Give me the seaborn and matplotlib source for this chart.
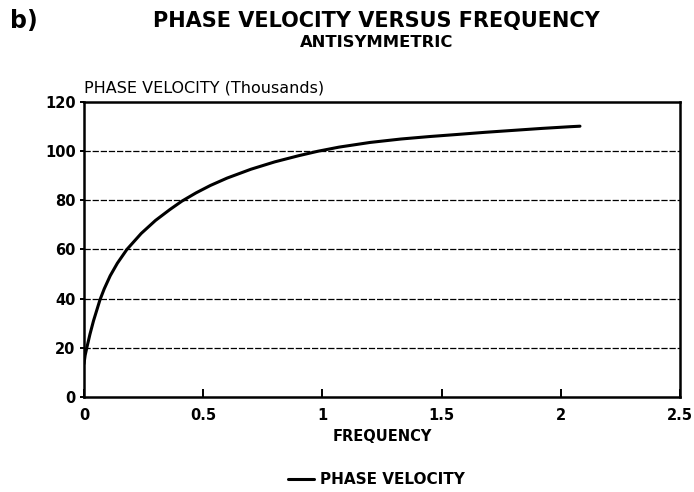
import matplotlib
matplotlib.use("Agg")
import matplotlib.pyplot as plt
import seaborn as sns
import pandas as pd

# Phase velocity (thousands) of the antisymmetric mode against frequency
frequency = [0, 0.005, 0.013, 0.025, 0.04, 0.067, 0.085, 0.11, 0.14, 0.18,
             0.24, 0.30, 0.36, 0.41, 0.47, 0.53, 0.60, 0.70, 0.80, 0.90,
             0.98, 1.07, 1.20, 1.33, 1.45, 1.56, 1.68, 1.80, 1.92, 2.04,
             2.08]
phase_velocity = [13.5, 17, 20.5, 25.5, 31, 39.5, 44.0, 49.3, 54.4, 60,
                  66.5, 71.8, 76.2, 79.6, 83.0, 86.0, 89.0, 92.6, 95.6, 98.1,
                  99.9, 101.6, 103.5, 104.9, 105.9, 106.7, 107.6, 108.4, 109.2, 109.9,
                  110.1]
x_ticks = [0, 0.5, 1, 1.5, 2, 2.5]
x_tick_labels = ["0", "0.5", "1", "1.5", "2", "2.5"]
y_ticks = [0, 20, 40, 60, 80, 100, 120]

sns.set_theme(style="white")
plt.rcParams["font.family"] = ["DejaVu Sans"]
plt.rcParams.update({"text.color": "black", "axes.labelcolor": "black",
                     "xtick.color": "black", "ytick.color": "black"})

df = pd.DataFrame({"FREQUENCY": frequency, "PHASE VELOCITY": phase_velocity})

fig = plt.figure(figsize=(6.94, 4.92), dpi=100)
ax = fig.add_axes([0.121, 0.193, 0.859, 0.600])

sns.lineplot(data=df, x="FREQUENCY", y="PHASE VELOCITY", ax=ax,
             color="black", linewidth=2.2, label="PHASE VELOCITY")

ax.set_xlim(0, 2.5)
ax.set_ylim(0, 120)
ax.set_xticks(x_ticks)
ax.set_xticklabels(x_tick_labels)
ax.set_yticks(y_ticks)

for y in y_ticks[1:-1]:
    ax.axhline(y, color="black", linewidth=0.9, linestyle=(0, (5, 1.5)), zorder=0)

for s in ax.spines.values():
    s.set_color("black")
    s.set_linewidth(1.8)

ax.tick_params(axis="x", direction="in", length=6, width=1.4,
               labelsize=10.5, pad=8, bottom=True)
ax.tick_params(axis="y", direction="out", length=3, width=1.4,
               labelsize=10.5, pad=3, left=True)
for lab in ax.get_xticklabels() + ax.get_yticklabels():
    lab.set_fontweight("bold")

ax.set_xlabel("FREQUENCY", fontsize=10.5, fontweight="bold", labelpad=4)
ax.set_ylabel("")
ax.text(0.0, 1.022, "PHASE VELOCITY (Thousands)", transform=ax.transAxes,
        fontsize=11.5, ha="left", va="bottom")

fig.text(0.542, 0.958, "PHASE VELOCITY VERSUS FREQUENCY", ha="center",
         va="center", fontsize=15, fontweight="bold")
fig.text(0.542, 0.914, "ANTISYMMETRIC", ha="center", va="center",
         fontsize=11.8, fontweight="bold")
fig.text(0.015, 0.958, "b)", ha="left", va="center", fontsize=17,
         fontweight="bold")

leg = ax.legend(loc="center", bbox_to_anchor=(0.543, 0.025),
                bbox_transform=fig.transFigure, frameon=False,
                fontsize=11, handlelength=1.7, handletextpad=0.4)
for t in leg.get_texts():
    t.set_fontweight("bold")

fig.savefig("out.png", dpi=100)
